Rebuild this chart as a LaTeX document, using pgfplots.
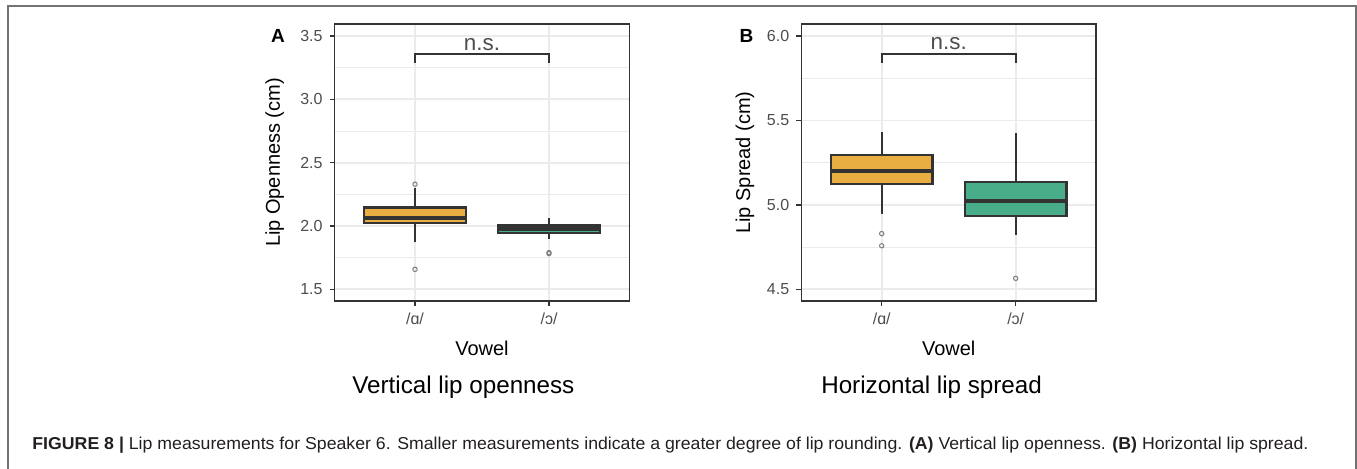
\documentclass[border=0pt]{standalone}
\usepackage{fontspec}
\setmainfont{Liberation Sans}
\usepackage{graphicx}
\usepackage{pgfplots}
\pgfplotsset{compat=1.18}
\definecolor{boxorange}{RGB}{233,174,66}
\definecolor{boxgreen}{RGB}{74,173,137}
\definecolor{grid92}{RGB}{235,235,235}
\definecolor{grey20}{RGB}{51,51,51}
\definecolor{grey30}{RGB}{77,77,77}
\definecolor{grey50}{RGB}{127,127,127}
\definecolor{framegrey}{RGB}{115,115,115}
\definecolor{captext}{RGB}{35,31,32}

\pgfplotsset{
  lipaxis/.style={
    scale only axis, width=147.4pt, height=138.5pt,
    xmin=0.4, xmax=2.6,
    xtick={1,2}, xticklabels={/ɑ/,/ɔ/},
    minor y tick num=1,
    grid=both,
    major grid style={draw=grid92, line width=0.9pt},
    minor grid style={draw=grid92, line width=0.45pt},
    axis line style={draw=grey20, line width=0.7pt},
    tick align=outside, tick pos=left,
    major tick length=2.5pt, minor tick length=0pt,
    every tick/.style={draw=grey20, line width=0.7pt},
    /pgf/number format/assume math mode=true,
    yticklabel style={/pgf/number format/.cd, fixed, fixed zerofill, precision=1},
    ticklabel style={font=\fontsize{8}{9.6}\selectfont, text=grey30},
    label style={font=\fontsize{10}{12}\selectfont, text=black},
    every axis x label/.style={at={(axis description cs:0.5,-0.1697)}, anchor=center},
  },
  boxst/.style={draw=grey20, line width=1.15pt, fill=#1},
  medst/.style={draw=grey20, line width=2pt},
  whst/.style={draw=grey20, line width=0.9pt},
  outl/.style={only marks, mark=o, mark size=1.1pt, draw=grey50, mark options={line width=0.5pt, draw=grey50, fill=none}},
  brk/.style={draw=grey20, line width=0.8pt},
}

\begin{document}
\begin{tikzpicture}
\path[use as bounding box] (0,0) rectangle (678.5pt,234.5pt);
\draw[framegrey, line width=1pt] (3.75pt,0) -- (3.75pt,231.5pt) -- (677.75pt,231.5pt) -- (677.75pt,0);

% Panel A
\begin{axis}[lipaxis, at={(167.3pt,84pt)}, anchor=south west,
  ymin=1.408, ymax=3.595, ytick={1.5,2,2.5,3,3.5},
  xlabel={Vowel}, ylabel={Lip Openness (cm)},
  every axis y label/.style={at={(axis description cs:-0.2035,0.5)}, rotate=90, anchor=center}]
% /ɑ/ : whiskers 1.877 / 2.30, quartiles 2.026 / 2.145, median 2.06
\addplot[whst] coordinates {(1,2.145) (1,2.30)};
\addplot[whst] coordinates {(1,2.026) (1,1.877)};
\addplot[boxst=boxorange] coordinates {(0.62,2.026) (1.38,2.026) (1.38,2.145) (0.62,2.145)} -- cycle;
\addplot[medst] coordinates {(0.62,2.06) (1.38,2.06)};
% /ɔ/ : whiskers 1.90 / 2.061, quartiles 1.947 / 2.003, median 1.975
\addplot[whst] coordinates {(2,2.003) (2,2.061)};
\addplot[whst] coordinates {(2,1.947) (2,1.90)};
\addplot[boxst=boxgreen] coordinates {(1.62,1.947) (2.38,1.947) (2.38,2.003) (1.62,2.003)} -- cycle;
\addplot[medst] coordinates {(1.62,1.975) (2.38,1.975)};
\addplot[outl] coordinates {(1,2.33) (1,1.658) (2,1.782) (2,1.790)};
\addplot[brk] coordinates {(1,3.29) (1,3.356) (2,3.356) (2,3.29)};
\node[anchor=base, font=\fontsize{11.2}{13}\selectfont, text=grey30, inner sep=0pt] at (axis cs:1.5,3.356) [yshift=2pt] {n.s.};
\end{axis}

% Panel B
\begin{axis}[lipaxis, at={(400.65pt,84pt)}, anchor=south west,
  ymin=4.431, ymax=6.071, ytick={4.5,5,5.5,6},
  xlabel={Vowel}, ylabel={Lip Spread (cm)},
  every axis y label/.style={at={(axis description cs:-0.191,0.5)}, rotate=90, anchor=center}]
% /ɑ/ : whiskers 4.946 / 5.43, quartiles 5.122 / 5.297, median 5.20
\addplot[whst] coordinates {(1,5.297) (1,5.43)};
\addplot[whst] coordinates {(1,5.122) (1,4.946)};
\addplot[boxst=boxorange] coordinates {(0.62,5.122) (1.38,5.122) (1.38,5.297) (0.62,5.297)} -- cycle;
\addplot[medst] coordinates {(0.62,5.20) (1.38,5.20)};
% /ɔ/ : whiskers 4.822 / 5.424, quartiles 4.934 / 5.136, median 5.021
\addplot[whst] coordinates {(2,5.136) (2,5.424)};
\addplot[whst] coordinates {(2,4.934) (2,4.822)};
\addplot[boxst=boxgreen] coordinates {(1.62,4.934) (2.38,4.934) (2.38,5.136) (1.62,5.136)} -- cycle;
\addplot[medst] coordinates {(1.62,5.021) (2.38,5.021)};
\addplot[outl] coordinates {(1,4.83) (1,4.758) (2,4.565)};
\addplot[brk] coordinates {(1,5.842) (1,5.895) (2,5.895) (2,5.842)};
\node[anchor=base, font=\fontsize{11.2}{13}\selectfont, text=grey30, inner sep=0pt] at (axis cs:1.5,5.895) [yshift=2pt] {n.s.};
\end{axis}

% panel letters
\node[font=\fontsize{9.5}{11}\selectfont\bfseries] at (139pt,216.5pt) {A};
\node[font=\fontsize{9.5}{11}\selectfont\bfseries] at (373.3pt,216.5pt) {B};

% panel titles
\node[anchor=base, inner sep=0pt, font=\fontsize{12.1}{14}\selectfont] at (231.7pt,37.5pt) {Vertical lip openness};
\node[anchor=base, inner sep=0pt, font=\fontsize{12.1}{14}\selectfont] at (465.8pt,37.5pt) {Horizontal lip spread};

% caption
\node[anchor=base west, inner sep=0pt, text=captext, font=\fontsize{8.6}{10}\selectfont] at (16pt,9.5pt)
  {\resizebox{638pt}{\height}{\textbf{FIGURE 8 |} Lip measurements for Speaker 6. Smaller measurements indicate a greater degree of lip rounding. \textbf{(A)} Vertical lip openness. \textbf{(B)} Horizontal lip spread.}};
\end{tikzpicture}
\end{document}
